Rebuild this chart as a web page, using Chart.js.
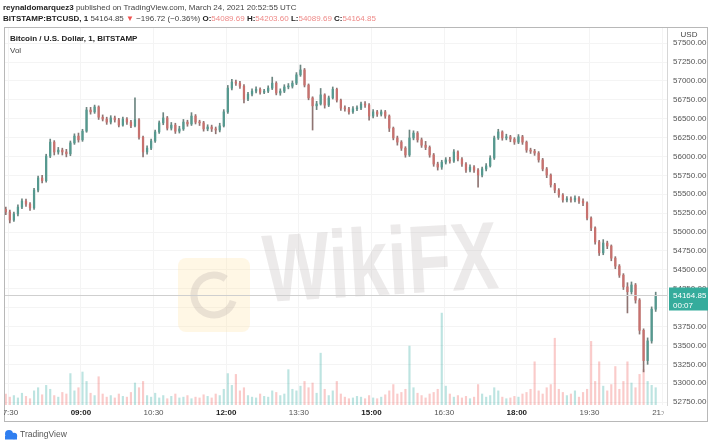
<!DOCTYPE html>
<html>
<head>
<meta charset="utf-8">
<script src="https://cdn.jsdelivr.net/npm/chart.js@4.4.1/dist/chart.umd.min.js"></script>
<style>
  html, body { margin: 0; padding: 0; background: #fff; }
  canvas { display: block; }
</style>
</head>
<body>
<canvas id="chart" width="712" height="445"></canvas>
<script>
// 5 minute candles, BITSTAMP:BTCUSD, 24 March 2021
const startMinute = 447; // 07:27
const stepMinutes = 5;

const opens = [
  55300,55265,55160,55240,55330,55410,55370,55320,55555,55715,
  55680,56005,56190,56060,56085,56060,56035,56180,56270,56220,
  56335,56615,56590,56655,56520,56495,56455,56510,56485,56415,
  56495,56455,56405,56485,56255,56060,56110,56205,56325,56445,
  56510,56375,56415,56335,56365,56455,56430,56535,56455,56445,
  56365,56390,56365,56350,56405,56590,56905,56985,56970,56930,
  56760,56825,56865,56890,56850,56865,56905,56970,56840,56865,
  56920,56930,56970,57080,57145,56945,56775,56670,56695,56815,
  56680,56775,56890,56745,56640,56630,56590,56630,56640,56695,
  56680,56535,56590,56560,56590,56535,56375,56245,56190,56110,
  56020,56245,56310,56220,56150,56120,56020,55900,55860,55925,
  55955,55940,56060,55965,55900,55820,55860,55820,55755,55835,
  55875,55980,56245,56325,56245,56260,56230,56190,56260,56190,
  56085,56070,56045,55955,55835,55755,55625,55555,55490,55425,
  55440,55425,55450,55410,55385,55185,55055,54870,54725,54855,
  54815,54655,54550,54430,54275,54210,54300,54100,53700,53300,
  53560,53980
];
const highs = [
  55330,55290,55265,55360,55440,55435,55390,55580,55740,55750,
  56030,56230,56210,56120,56110,56095,56205,56300,56310,56360,
  56650,56650,56680,56670,56550,56520,56540,56535,56505,56520,
  56515,56480,56775,56500,56270,56140,56230,56350,56470,56580,
  56530,56450,56440,56400,56490,56480,56580,56555,56480,56465,
  56420,56415,56390,56440,56620,56940,57020,57010,56995,56950,
  56850,56895,56920,56910,56890,56935,57050,56990,56895,56950,
  56965,57000,57110,57210,57165,56960,56790,56730,56900,56830,
  56800,56920,56905,56760,56670,56650,56660,56670,56720,56725,
  56700,56620,56610,56615,56610,56550,56390,56270,56210,56130,
  56350,56340,56330,56245,56200,56140,56040,55925,55950,55985,
  55990,56090,56075,55985,55920,55890,55880,55840,55860,55905,
  56010,56270,56360,56340,56295,56280,56250,56290,56280,56205,
  56110,56095,56065,55975,55855,55770,55645,55575,55510,55470,
  55465,55480,55470,55440,55400,55200,55070,54890,54900,54880,
  54830,54675,54570,54450,54330,54340,54320,54120,53720,53600,
  54010,54205
];
const lows = [
  55230,55120,55140,55215,55310,55340,55285,55300,55530,55650,
  55660,55985,56020,56030,56020,55995,56010,56160,56190,56200,
  56320,56560,56570,56490,56470,56425,56430,56455,56390,56400,
  56425,56380,56390,56230,55995,56030,56090,56185,56305,56420,
  56350,56350,56305,56310,56345,56400,56410,56430,56410,56335,
  56340,56330,56300,56325,56390,56570,56880,56940,56900,56710,
  56740,56800,56840,56825,56830,56845,56885,56815,56810,56845,
  56895,56905,56950,57060,56920,56750,56350,56620,56680,56640,
  56660,56760,56720,56610,56600,56560,56570,56605,56620,56650,
  56480,56510,56530,56535,56505,56330,56220,56150,56080,55990,
  56000,56220,56190,56120,56090,55990,55870,55820,55830,55900,
  55910,55920,55940,55870,55790,55795,55790,55595,55730,55810,
  55860,55960,56225,56215,56220,56195,56160,56170,56160,56055,
  56040,56015,55925,55810,55720,55595,55520,55460,55395,55400,
  55395,55400,55380,55350,55160,55020,54840,54690,54700,54780,
  54620,54515,54400,54240,53930,54180,54060,53650,53150,53250,
  53530,53950
];
const closes = [
  55265,55160,55240,55330,55410,55370,55320,55555,55715,55680,
  56005,56190,56060,56085,56060,56035,56180,56270,56220,56335,
  56615,56590,56655,56520,56495,56455,56510,56485,56415,56495,
  56455,56405,56485,56255,56060,56110,56205,56325,56445,56510,
  56375,56415,56335,56365,56455,56430,56535,56455,56445,56365,
  56390,56365,56350,56405,56590,56905,56985,56970,56930,56760,
  56825,56865,56890,56850,56865,56905,56970,56840,56865,56920,
  56930,56970,57080,57145,56945,56775,56670,56695,56815,56680,
  56775,56890,56745,56640,56630,56590,56630,56640,56695,56680,
  56535,56590,56560,56590,56535,56375,56245,56190,56110,56020,
  56245,56310,56220,56150,56120,56020,55900,55860,55925,55955,
  55940,56060,55965,55900,55820,55860,55820,55755,55835,55875,
  55980,56245,56325,56245,56260,56230,56190,56260,56190,56085,
  56070,56045,55955,55835,55755,55625,55555,55490,55425,55440,
  55425,55450,55410,55385,55185,55055,54870,54725,54855,54815,
  54655,54550,54430,54275,54210,54300,54100,53700,53300,53560,
  53980,54165
];
const volumes = [
  14,10,12,9,15,11,8,18,22,13,
  25,20,12,10,16,14,40,18,22,42,
  30,15,12,36,14,10,12,9,14,11,
  10,16,28,22,30,12,10,15,9,12,
  8,11,14,9,10,12,8,10,9,13,
  11,9,14,12,20,40,25,39,18,22,
  12,10,9,14,11,10,18,16,12,14,
  45,20,18,24,30,22,28,15,66,20,
  12,18,30,14,10,8,9,11,10,8,
  12,9,8,10,13,18,26,14,16,20,
  75,22,15,12,9,14,16,20,117,24,
  14,10,12,9,11,8,10,26,14,10,
  12,22,18,10,8,9,11,10,14,16,
  20,55,18,14,22,26,85,20,16,12,
  14,18,10,16,20,81,30,55,24,18,
  26,49,20,30,55,28,22,39,45,30,
  25,22
];

const priceTicks = [52750, 53000, 53250, 53500, 53750, 54000, 54250, 54500, 54750, 55000,
  55250, 55500, 55750, 56000, 56250, 56500, 56750, 57000, 57250, 57500];
const timeTicks = [450, 540, 630, 720, 810, 900, 990, 1080, 1170, 1260];
const timeLabels = ['07:30', '09:00', '10:30', '12:00', '13:30', '15:00', '16:30', '18:00', '19:30', '21:00'];
const boldTimes = ['09:00', '12:00', '15:00', '18:00'];
const lastPrice = 54164.85;

const red = '#ef5350';
const font = 'Liberation Sans';

const times = closes.map((c, i) => startMinute + i * stepMinutes);
const isUp = closes.map((c, i) => c >= opens[i]);
const bodyColors = isUp.map(u => u ? '#55998f' : '#c8716e');
const wickColors = isUp.map(u => u ? '#6c8580' : '#8f7472');
const volColors = isUp.map(u => u ? 'rgba(38,166,154,0.3)' : 'rgba(239,83,80,0.3)');

// text with bold / coloured pieces
function richText(ctx, x, y, parts, size) {
  ctx.textBaseline = 'middle';
  ctx.textAlign = 'left';
  parts.forEach(p => {
    ctx.font = (p[1] ? 'bold ' : '') + size + 'px "' + font + '"';
    ctx.fillStyle = p[2] || '#333';
    ctx.fillText(p[0], x, y);
    x += ctx.measureText(p[0]).width;
  });
}

const pink = '#ee8a88';
const frame = {
  id: 'frame',
  beforeDatasetsDraw(chart) {
    const ctx = chart.ctx;
    // WikiFX watermark
    ctx.save();
    ctx.fillStyle = 'rgba(255,222,150,0.25)';
    ctx.beginPath();
    ctx.roundRect(178, 258, 72, 74, 8);
    ctx.fill();
    ctx.strokeStyle = 'rgba(170,160,160,0.25)';
    ctx.lineWidth = 7;
    ctx.beginPath();
    ctx.arc(214, 295, 20, 0.3, Math.PI * 1.7);
    ctx.stroke();
    ctx.translate(265, 302);
    ctx.rotate(-0.06);
    ctx.font = 'bold 96px "' + font + '"';
    const w = ctx.measureText('WikiFX').width;
    ctx.scale(235 / w, 1);
    ctx.fillStyle = 'rgba(180,170,170,0.25)';
    ctx.textBaseline = 'alphabetic';
    ctx.fillText('WikiFX', 0, 0);
    ctx.restore();
  },
  afterDraw(chart) {
    const ctx = chart.ctx;
    const area = chart.chartArea;
    const x = chart.scales.x;
    const y = chart.scales.y;
    ctx.save();

    // last price line
    const py = Math.round(y.getPixelForValue(lastPrice)) + 0.5;
    ctx.strokeStyle = '#cfcfcf';
    ctx.lineWidth = 1;
    ctx.beginPath();
    ctx.moveTo(area.left, py);
    ctx.lineTo(area.right, py);
    ctx.stroke();

    // outer box
    ctx.strokeStyle = '#b8b8b8';
    ctx.strokeRect(4.5, 27.5, 703, 394);

    // header
    richText(ctx, 3, 8, [['reynaldomarquez3', true, '#222'],
      [' published on TradingView.com, March 24, 2021 20:52:55 UTC', false, '#444']], 8);
    richText(ctx, 3, 19, [['BITSTAMP:BTCUSD, 1', true, '#222'], [' 54164.85 ', false, '#444'],
      ['\u25BC', false, red], [' \u2212196.72 (\u22120.36%) ', false, '#444'],
      ['O:', true, '#222'], ['54089.69', false, pink], [' H:', true, '#222'], ['54203.60', false, pink],
      [' L:', true, '#222'], ['54089.69', false, pink], [' C:', true, '#222'], ['54164.85', false, pink]], 8);

    // legend in pane
    richText(ctx, 10, 39, [['Bitcoin / U.S. Dollar, 1, BITSTAMP', true, '#222']], 8);
    richText(ctx, 10, 51, [['Vol', false, '#444']], 8);

    // time labels, clipped to the pane
    ctx.save();
    ctx.beginPath();
    ctx.rect(4, area.bottom, 660, 16);
    ctx.clip();
    ctx.textAlign = 'center';
    ctx.textBaseline = 'middle';
    timeTicks.forEach((t, i) => {
      const lab = timeLabels[i];
      ctx.font = (boldTimes.includes(lab) ? 'bold ' : '') + '8px "' + font + '"';
      ctx.fillStyle = boldTimes.includes(lab) ? '#222' : '#555';
      ctx.fillText(lab, x.getPixelForValue(t), 413);
    });
    ctx.restore();

    // USD caption
    ctx.fillStyle = '#fff';
    ctx.fillRect(672, 29, 34, 9);
    ctx.font = '8px "' + font + '"';
    ctx.fillStyle = '#444';
    ctx.textAlign = 'center';
    ctx.fillText('USD', 689, 35);

    // last price tag
    ctx.fillStyle = '#35ac9c';
    ctx.fillRect(669, py - 8, 39, 23);
    ctx.fillStyle = '#fff';
    ctx.textAlign = 'left';
    ctx.font = '8px "' + font + '"';
    ctx.fillText(lastPrice.toFixed(2), 673, py);
    ctx.fillText('00:07', 673, py + 10);

    // footer logo
    ctx.fillStyle = '#2f7ef0';
    ctx.beginPath();
    ctx.arc(9, 434, 4, 0, Math.PI * 2);
    ctx.arc(14, 436, 3.2, 0, Math.PI * 2);
    ctx.fill();
    ctx.fillRect(5, 436, 12, 3.5);
    richText(ctx, 20, 435, [['TradingView', false, '#555']], 8.5);
    ctx.restore();
  }
};

new Chart(document.getElementById('chart'), {
  type: 'bar',
  data: {
    datasets: [
      {
        data: times.map((t, i) => ({x: t, y: volumes[i]})),
        yAxisID: 'yVol',
        backgroundColor: volColors,
        barThickness: 1.5,
        grouped: false,
        order: 3
      },
      {
        data: times.map((t, i) => ({x: t, y: [lows[i], highs[i]]})),
        backgroundColor: wickColors,
        barThickness: 1,
        grouped: false,
        order: 2
      },
      {
        data: times.map((t, i) => ({x: t, y: [opens[i], closes[i]]})),
        backgroundColor: bodyColors,
        barThickness: 1.6,
        minBarLength: 1,
        grouped: false,
        order: 1
      }
    ]
  },
  options: {
    responsive: false,
    animation: false,
    layout: { padding: { left: 5, top: 28, right: 0, bottom: 23 } },
    plugins: { legend: { display: false }, tooltip: { enabled: false } },
    scales: {
      x: {
        type: 'linear',
        offset: false,
        min: 446,
        max: 1266,
        afterBuildTicks: s => { s.ticks = timeTicks.map(v => ({ value: v })); },
        afterFit: s => { s.height = 17; },
        ticks: { display: false },
        grid: { color: '#f4f4f4', drawTicks: false, offset: false },
        border: { display: false }
      },
      y: {
        position: 'right',
        min: 52712,
        max: 57700,
        afterBuildTicks: s => { s.ticks = priceTicks.map(v => ({ value: v })); },
        afterFit: s => { s.width = 45; },
        ticks: {
          font: { family: font, size: 8 },
          color: '#555',
          padding: 6,
          callback: v => v.toFixed(2)
        },
        grid: { color: '#f4f4f4', drawTicks: false },
        border: { display: true, color: '#d6d6d6' }
      },
      yVol: { display: false, min: 0, max: 480 }
    }
  },
  plugins: [frame]
});
</script>
</body>
</html>
